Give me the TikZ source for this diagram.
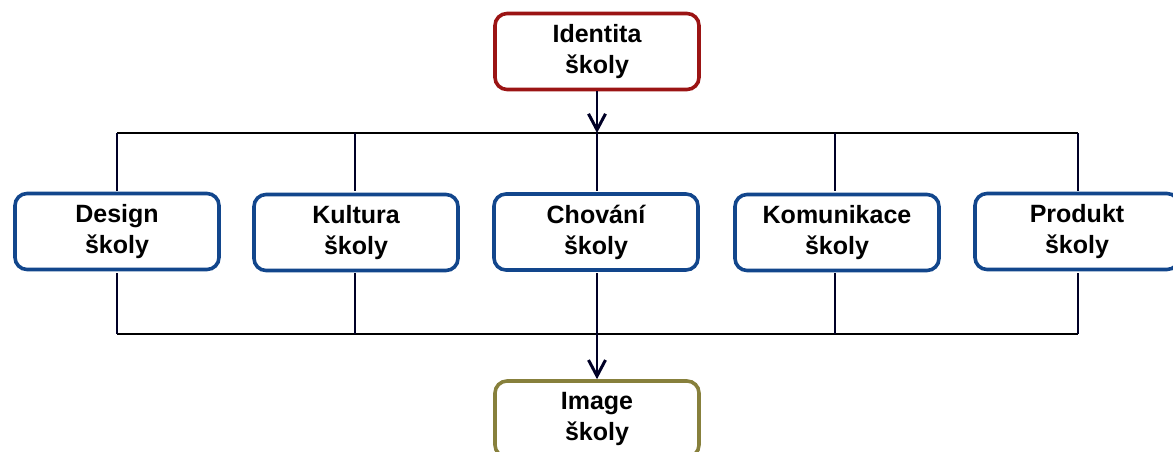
\documentclass[tikz,border=0pt]{standalone}
\usepackage{fontspec}
\setmainfont{Liberation Sans}
\usetikzlibrary{arrows.meta}
\definecolor{boxblue}{RGB}{18,70,140}
\definecolor{boxred}{RGB}{155,20,20}
\definecolor{boxolive}{RGB}{135,128,60}
\tikzset{
  box/.style={draw=boxblue, line width=3.6pt, rounded corners=12pt, fill=white,
    minimum width=204pt, minimum height=76pt, align=center, inner sep=0pt,
    font=\fontsize{25}{31}\selectfont\bfseries},
  bus/.style={line width=2.2pt, black},
  drop/.style={line width=1.5pt, black!85!blue},
  vtip/.style={-{Straight Barb[length=16pt,width=17pt,line width=3pt]}}
}
\begin{document}
\begin{tikzpicture}[x=1pt,y=-1pt]
\useasboundingbox (0,0) rectangle (1173,452);
\node[box, draw=boxred] (ident) at (597,51.5) {Identita\\školy};
\node[box] (design) at (117,231.5) {Design\\školy};
\node[box] (kultura) at (356,232.5) {Kultura\\školy};
\node[box] (chovani) at (596,232) {Chování\\školy};
\node[box] (komun) at (837,232.5) {Komunikace\\školy};
\node[box] (produkt) at (1077,231.5) {Produkt\\školy};
\node[box, draw=boxolive] (image) at (597,419) {Image\\školy};
\coordinate (tl) at (117,133);
\coordinate (tr) at (1078,133);
\coordinate (tm) at (597,133);
\coordinate (bl) at (117,334);
\coordinate (br) at (1078,334);
\draw[bus] (tl) -- (tr);
\draw[bus] (bl) -- (br);
\foreach \x in {117,355,597,835,1078}{
  \draw[drop] (\x,133) -- (\x,191);
}
\foreach \x in {117,355,835,1078}{
  \draw[drop] (\x,273) -- (\x,334);
}
\draw[drop, vtip] (ident.south -| tm) -- (tm);
\draw[drop, vtip] (597,273) -- (image.north);
\end{tikzpicture}
\end{document}
